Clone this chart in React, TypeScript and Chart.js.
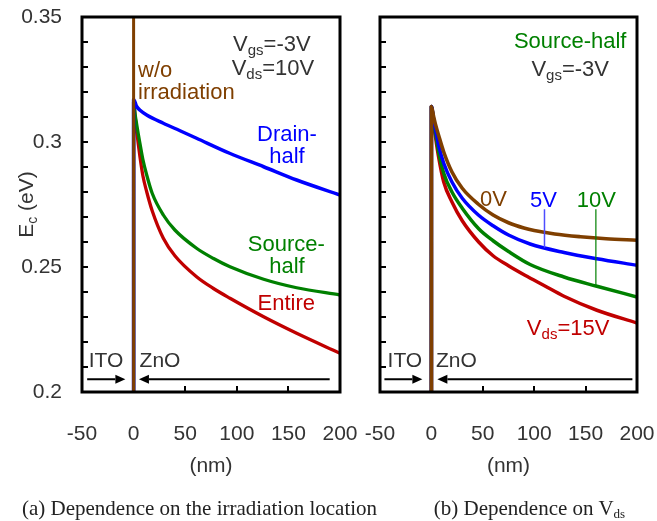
import React, { useEffect, useRef } from 'react';
import { Chart, registerables } from 'chart.js';

Chart.register(...registerables);

const FONT = '"Liberation Sans", Arial, sans-serif';
const SERIF = '"Liberation Serif", "Times New Roman", serif';

const BROWN = '#7f3f00';
const BLUE = '#0000ff';
const GREEN = '#008000';
const RED = '#c00000';
const GRAY = '#333333';

// Axis ticks
const X_TICKS = [-50, 0, 50, 100, 150, 200];
const Y_TICKS = [0.2, 0.25, 0.3, 0.35];
const Y_TICK_LABELS = ['0.2', '0.25', '0.3', '0.35'];

// (a) Dependence on the irradiation location  (x: nm, y: Ec eV)
const WO_X = [0, 0];
const WO_Y = [0.19, 0.36];
const DRAIN_X = [0, 0, 3, 6, 12.7, 28.8, 45, 61, 93, 126, 158, 200];
const DRAIN_Y = [0.19, 0.317, 0.3142, 0.3128, 0.3108, 0.3075, 0.3045, 0.3015, 0.2955, 0.2901, 0.2848, 0.2788];
const SOURCE_X = [0, 0, 1.5, 3, 4.6, 6.2, 9, 12.7, 18, 28.8, 40, 61, 77, 93.4, 126, 158, 200];
const SOURCE_Y = [0.19, 0.316, 0.311, 0.307, 0.303, 0.2993, 0.293, 0.2868, 0.2795, 0.2708, 0.2648, 0.2575, 0.2535, 0.2501, 0.2451, 0.2417, 0.2388];
const ENTIRE_X = [0, 0, 1.5, 3, 4.6, 6.2, 9, 12.7, 18, 28.8, 40, 61, 77, 93.4, 126, 158, 200];
const ENTIRE_Y = [0.19, 0.316, 0.31, 0.3045, 0.299, 0.294, 0.2865, 0.2801, 0.2725, 0.2615, 0.2545, 0.2461, 0.2415, 0.2375, 0.2301, 0.2235, 0.2155];

// (b) Dependence on Vds (source-half irradiation)
const V0_X = [0, 0, 2, 4, 7, 12, 20, 30, 46, 60, 75, 90, 100, 120, 145, 170, 200];
const V0_Y = [0.19, 0.3142, 0.3105, 0.307, 0.3027, 0.296, 0.288, 0.2815, 0.275, 0.2708, 0.2677, 0.2656, 0.2646, 0.2632, 0.2621, 0.2613, 0.2607];
const V5_X = [0, 0, 2, 4, 7, 12, 20, 30, 46, 60, 75, 96, 129, 161, 200];
const V5_Y = [0.19, 0.3142, 0.3095, 0.305, 0.2987, 0.2915, 0.284, 0.2775, 0.2707, 0.2665, 0.2628, 0.2592, 0.2558, 0.2533, 0.2507];
const V10_X = [0, 0, 2, 4, 7, 12, 20, 30, 46, 60, 75, 96, 129, 161, 200];
const V10_Y = [0.19, 0.3142, 0.309, 0.3035, 0.296, 0.2875, 0.28, 0.2735, 0.2653, 0.2605, 0.2562, 0.251, 0.246, 0.2423, 0.238];
const V15_X = [0, 0, 2, 4, 7, 12, 20, 30, 46, 60, 75, 91, 110, 129, 161, 200];
const V15_Y = [0.19, 0.3142, 0.308, 0.302, 0.294, 0.284, 0.276, 0.2685, 0.26, 0.2545, 0.2505, 0.2467, 0.2425, 0.2383, 0.2327, 0.2276];

type Seg = [string, boolean?];
type Label = { parts: Seg[]; x: number; y: number; color: string; align?: CanvasTextAlign; size?: number };

const LEFT_PANEL = {
  id: 'a',
  width: 360,
  yAxisWidth: 82,
  padRight: 20,
  showY: true,
  series: [
    { xs: WO_X, ys: WO_Y, color: BROWN, width: 3 },
    { xs: DRAIN_X, ys: DRAIN_Y, color: BLUE, width: 3.5 },
    { xs: SOURCE_X, ys: SOURCE_Y, color: GREEN, width: 3.3 },
    { xs: ENTIRE_X, ys: ENTIRE_Y, color: RED, width: 3.3 },
  ],
  labels: [
    { parts: [['w/o']], x: 4.3, y: 0.3292, color: BROWN, align: 'left' },
    { parts: [['irradiation']], x: 4.3, y: 0.3204, color: BROWN, align: 'left' },
    { parts: [['V'], ['gs', true], ['=-3V']], x: 134, y: 0.3396, color: GRAY },
    { parts: [['V'], ['ds', true], ['=10V']], x: 135, y: 0.33, color: GRAY },
    { parts: [['Drain-']], x: 148.6, y: 0.3036, color: BLUE },
    { parts: [['half']], x: 148.6, y: 0.2948, color: BLUE },
    { parts: [['Source-']], x: 148, y: 0.2596, color: GREEN },
    { parts: [['half']], x: 148.6, y: 0.2508, color: GREEN },
    { parts: [['Entire']], x: 148, y: 0.236, color: RED },
    { parts: [['ITO']], x: -26.7, y: 0.2132, color: GRAY, size: 21 },
    { parts: [['ZnO']], x: 25.6, y: 0.2132, color: GRAY, size: 21 },
  ] as Label[],
  arrows: [
    { from: -45, to: -8, y: 0.2051 },
    { from: 190, to: 5.2, y: 0.2051 },
  ],
  leaders: [] as any[],
};

const RIGHT_PANEL = {
  id: 'b',
  width: 297,
  yAxisWidth: 20,
  padRight: 20,
  showY: false,
  series: [
    { xs: V0_X, ys: V0_Y, color: BROWN, width: 3.6 },
    { xs: V5_X, ys: V5_Y, color: BLUE, width: 3.5 },
    { xs: V10_X, ys: V10_Y, color: GREEN, width: 3.5 },
    { xs: V15_X, ys: V15_Y, color: RED, width: 3.5 },
  ],
  labels: [
    { parts: [['Source-half']], x: 135, y: 0.3408, color: GREEN },
    { parts: [['V'], ['gs', true], ['=-3V']], x: 135, y: 0.3296, color: GRAY },
    { parts: [['0V']], x: 60.3, y: 0.2776, color: BROWN },
    { parts: [['5V']], x: 109, y: 0.2772, color: BLUE },
    { parts: [['10V']], x: 160.5, y: 0.2772, color: GREEN },
    { parts: [['V'], ['ds', true], ['=15V']], x: 133, y: 0.226, color: RED },
    { parts: [['ITO']], x: -25.8, y: 0.2132, color: GRAY, size: 21 },
    { parts: [['ZnO']], x: 24.3, y: 0.2132, color: GRAY, size: 21 },
  ] as Label[],
  arrows: [
    { from: -45.7, to: -8.8, y: 0.2051 },
    { from: 195.5, to: 5.8, y: 0.2051 },
  ],
  leaders: [
    { x: 110, top: 0.2731, xs: V5_X, ys: V5_Y, color: '#4d4dff', width: 1.5 },
    { x: 160, top: 0.2731, xs: V10_X, ys: V10_Y, color: GREEN, width: 1.2 },
  ],
};

function interp(xs: number[], ys: number[], x: number) {
  for (let i = 1; i < xs.length; i++) {
    if (x <= xs[i] && xs[i] > xs[i - 1]) {
      const t = (x - xs[i - 1]) / (xs[i] - xs[i - 1]);
      if (t >= 0) return ys[i - 1] + t * (ys[i] - ys[i - 1]);
    }
  }
  return ys[ys.length - 1];
}

function drawRich(ctx: CanvasRenderingContext2D, parts: Seg[], x: number, y: number, align: CanvasTextAlign, size: number, color: string) {
  const sub = Math.round(size * 0.66);
  const widths = parts.map(([t, s]) => {
    ctx.font = `${s ? sub : size}px ${FONT}`;
    return ctx.measureText(t).width;
  });
  const total = widths.reduce((a, b) => a + b, 0);
  let cx = align === 'center' ? x - total / 2 : align === 'right' ? x - total : x;
  const base = y + size * 0.36;
  ctx.fillStyle = color;
  ctx.textAlign = 'left';
  ctx.textBaseline = 'alphabetic';
  parts.forEach(([t, s], i) => {
    ctx.font = `${s ? sub : size}px ${FONT}`;
    ctx.fillText(t, cx, s ? base + size * 0.2 : base);
    cx += widths[i];
  });
}

function panelPlugin(panel: any) {
  return {
    id: 'panel-' + panel.id,
    beforeDatasetsDraw(chart: any) {
      const { ctx, chartArea: a, scales } = chart;
      const xs = scales.x, ys = scales.y;
      ctx.save();
      ctx.strokeStyle = '#000';
      ctx.lineWidth = 2;
      for (let i = 1; i < 15; i++) {
        const py = Math.round(ys.getPixelForValue(0.2 + i * 0.01));
        ctx.beginPath();
        ctx.moveTo(a.left, py);
        ctx.lineTo(a.left + 6, py);
        ctx.stroke();
      }
      X_TICKS.forEach((v) => {
        if (v <= xs.min || v >= xs.max) return;
        const px = Math.round(xs.getPixelForValue(v));
        ctx.beginPath();
        ctx.moveTo(px, a.bottom);
        ctx.lineTo(px, a.bottom - 6);
        ctx.stroke();
      });
      ctx.restore();
    },
    afterDatasetsDraw(chart: any) {
      const { ctx, chartArea: a, scales } = chart;
      const xs = scales.x, ys = scales.y;
      ctx.save();
      panel.leaders.forEach((l: any) => {
        const px = xs.getPixelForValue(l.x);
        ctx.strokeStyle = l.color;
        ctx.lineWidth = l.width;
        ctx.beginPath();
        ctx.moveTo(px, ys.getPixelForValue(l.top));
        ctx.lineTo(px, ys.getPixelForValue(interp(l.xs, l.ys, l.x)));
        ctx.stroke();
      });
      panel.arrows.forEach((ar: any) => {
        const x0 = xs.getPixelForValue(ar.from);
        const x1 = xs.getPixelForValue(ar.to);
        const py = ys.getPixelForValue(ar.y);
        const dir = Math.sign(x1 - x0);
        const hl = 10, hw = 4.5;
        ctx.strokeStyle = '#000';
        ctx.fillStyle = '#000';
        ctx.lineWidth = 2;
        ctx.beginPath();
        ctx.moveTo(x0, py);
        ctx.lineTo(x1 - dir * hl, py);
        ctx.stroke();
        ctx.beginPath();
        ctx.moveTo(x1, py);
        ctx.lineTo(x1 - dir * hl, py - hw);
        ctx.lineTo(x1 - dir * hl, py + hw);
        ctx.closePath();
        ctx.fill();
      });
      ctx.strokeStyle = '#000';
      ctx.lineWidth = 3;
      ctx.strokeRect(a.left, a.top, a.right - a.left, a.bottom - a.top);
      panel.labels.forEach((l: Label) => {
        drawRich(ctx, l.parts, xs.getPixelForValue(l.x), ys.getPixelForValue(l.y), l.align || 'center', l.size || 22, l.color);
      });
      if (panel.showY) {
        ctx.translate(25, (a.top + a.bottom) / 2);
        ctx.rotate(-Math.PI / 2);
        drawRich(ctx, [['E'], ['c', true], [' (eV)']], 0, 0, 'center', 21, GRAY);
      }
      ctx.restore();
    },
  };
}

function buildConfig(panel: any): any {
  return {
    type: 'line',
    data: {
      datasets: panel.series.map((s: any) => ({
        data: s.xs.map((v: number, i: number) => ({ x: v, y: s.ys[i] })),
        borderColor: s.color,
        borderWidth: s.width,
        pointRadius: 0,
        fill: false,
        cubicInterpolationMode: 'monotone',
        borderJoinStyle: 'round',
        borderCapStyle: 'butt',
      })),
    },
    options: {
      responsive: false,
      animation: false,
      events: [],
      layout: { padding: { top: 17, right: panel.padRight, left: 0, bottom: 0 } },
      plugins: { legend: { display: false }, tooltip: { enabled: false } },
      scales: {
        x: {
          type: 'linear',
          min: -50,
          max: 200,
          afterBuildTicks: (s: any) => { s.ticks = X_TICKS.map((v) => ({ value: v })); },
          afterFit: (s: any) => { s.height = 129; },
          grid: { display: false, drawTicks: true, tickLength: 30 },
          border: { display: false },
          ticks: { font: { family: FONT, size: 21 }, color: GRAY, padding: 0, maxRotation: 0, autoSkip: false },
          title: { display: true, text: '(nm)', font: { family: FONT, size: 21 }, color: GRAY, padding: { top: 0, bottom: 42 } },
        },
        y: {
          type: 'linear',
          min: 0.2,
          max: 0.35,
          afterBuildTicks: (s: any) => { s.ticks = Y_TICKS.map((v) => ({ value: v })); },
          afterFit: (s: any) => { s.width = panel.yAxisWidth; },
          grid: { display: false, drawTicks: true, tickLength: 20 },
          border: { display: false },
          ticks: {
            display: panel.showY,
            font: { family: FONT, size: 21 },
            color: GRAY,
            padding: 0,
            callback: (_v: any, i: number) => Y_TICK_LABELS[i],
          },
        },
      },
    },
    plugins: [panelPlugin(panel)],
  };
}

export default function App() {
  const refA = useRef<HTMLCanvasElement>(null);
  const refB = useRef<HTMLCanvasElement>(null);
  useEffect(() => {
    const a = new Chart(refA.current as HTMLCanvasElement, buildConfig(LEFT_PANEL));
    const b = new Chart(refB.current as HTMLCanvasElement, buildConfig(RIGHT_PANEL));
    return () => { a.destroy(); b.destroy(); };
  }, []);
  const cap: React.CSSProperties = {
    position: 'absolute', top: 494, width: 399, textAlign: 'center',
    fontFamily: SERIF, fontSize: 21, lineHeight: '28px', color: '#222', whiteSpace: 'nowrap',
  };
  return (
    <div style={{ position: 'absolute', left: 0, top: 0, width: 657, height: 521, background: '#fff', overflow: 'hidden' }}>
      <canvas ref={refA} width={360} height={521} style={{ position: 'absolute', left: 0, top: 0, width: 360, height: 521 }} />
      <canvas ref={refB} width={297} height={521} style={{ position: 'absolute', left: 360, top: 0, width: 297, height: 521 }} />
      <div style={{ ...cap, left: 0 }}>(a) Dependence on the irradiation location</div>
      <div style={{ ...cap, left: 330 }}>
        (b) Dependence on V<sub style={{ fontSize: 13, lineHeight: 0, verticalAlign: -3 }}>ds</sub>
      </div>
    </div>
  );
}
